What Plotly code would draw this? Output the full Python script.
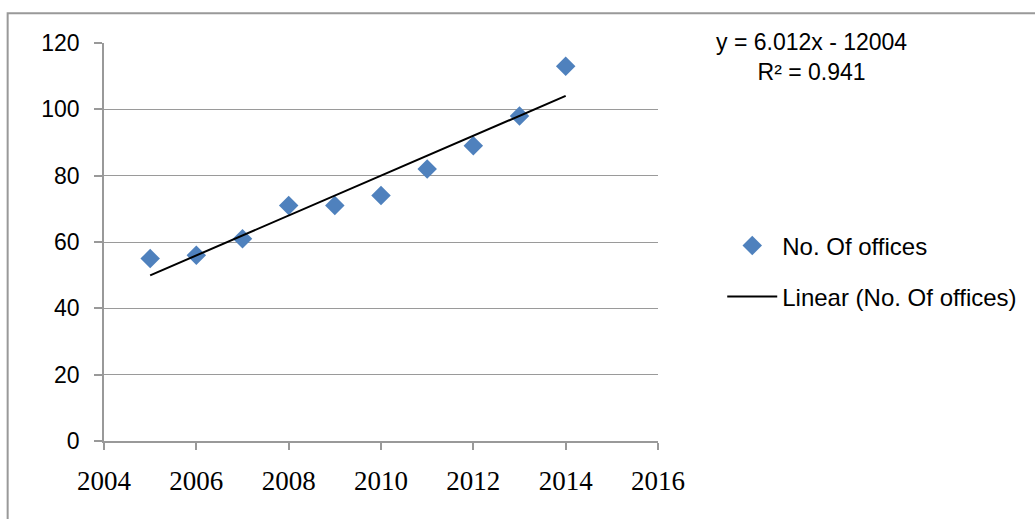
import numpy as np
import plotly.graph_objects as go

years = [2005, 2006, 2007, 2008, 2009, 2010, 2011, 2012, 2013, 2014]
offices = [55, 56, 61, 71, 71, 74, 82, 89, 98, 113]
series_name = "No. Of offices"
trend_name = "Linear (No. Of offices)"

slope, intercept = np.polyfit(years, offices, 1)
pred = np.polyval([slope, intercept], years)
r2 = 1 - np.sum((np.array(offices) - pred) ** 2) / np.sum((np.array(offices) - np.mean(offices)) ** 2)
trend_x = [years[0], years[-1]]
trend_y = list(np.polyval([slope, intercept], trend_x))

fig = go.Figure()
fig.add_trace(go.Scatter(
    x=years, y=offices, mode="markers", name=series_name,
    marker=dict(symbol="diamond", size=15, color="#4f81bd", line=dict(width=0)),
    legendgroup="a",
))
fig.add_trace(go.Scatter(
    x=trend_x, y=trend_y, mode="lines", name=trend_name,
    line=dict(color="black", width=2), legendgroup="b",
))

L, R, T, B = 104, 377, 43, 78
fig.update_layout(
    width=1035, height=519,
    margin=dict(l=L, r=R, t=T, b=B),
    plot_bgcolor="white", paper_bgcolor="white",
    font=dict(family="Liberation Sans", size=23, color="black"),
    xaxis=dict(range=[2004, 2016], dtick=2, tick0=2004, showgrid=False,
               showline=True, linecolor="#999999", linewidth=1.5,
               ticks="outside", ticklen=7, tickcolor="#999999", tickwidth=1.5,
               tickfont=dict(family="Liberation Serif", size=27),
               ticklabelstandoff=8, zeroline=False),
    yaxis=dict(range=[0, 120], dtick=20, tick0=0, showgrid=True,
               gridcolor="#9a9a9a", gridwidth=1.3,
               showline=True, linecolor="#999999", linewidth=1.5,
               ticks="outside", ticklen=8, tickcolor="#999999", tickwidth=1.5,
               tickfont=dict(family="Liberation Sans", size=23),
               ticklabelstandoff=10, zeroline=False),
    legend=dict(x=(720 - L) / 552, y=(440.7 - 223) / 398, xanchor="left", yanchor="top",
                font=dict(size=24), itemwidth=50, traceorder="grouped",
                tracegroupgap=17, bgcolor="rgba(0,0,0,0)"),
    showlegend=True,
)

fig.add_annotation(
    xref="paper", yref="paper", x=(809 - L) / 552, y=(440.7 - 57) / 398,
    xanchor="center", yanchor="middle",
    text=f"y = {slope:.3f}x - {abs(intercept):.0f}<br>R² = {r2:.3f}",
    showarrow=False, font=dict(size=23), align="center",
)

# outer chart border (partially cropped)
fig.add_shape(type="rect", xref="paper", yref="paper",
              x0=(8 - L) / 552, x1=(1045 - L) / 552,
              y0=(440.7 - 530) / 398, y1=(440.7 - 13) / 398,
              line=dict(color="#999999", width=2), layer="below")

fig.write_html("out.html")
